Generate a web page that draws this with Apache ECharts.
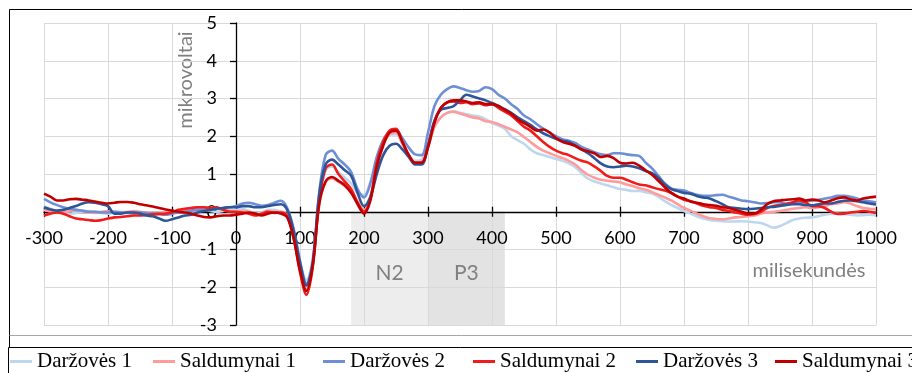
<!DOCTYPE html>
<html>
<head>
<meta charset="utf-8">
<script src="https://cdn.jsdelivr.net/npm/echarts@6/dist/echarts.min.js"></script>
<style>
  html, body { margin: 0; padding: 0; background: #fff; }
  #chart { width: 912px; height: 373px; }
</style>
</head>
<body>
<div id="chart"></div>
<script>
// Sample times (ms), one every 10 ms from -300 to 1000
const times = [
  -300,-290,-280,-270,-260,-250,-240,-230,-220,-210,
  -200,-190,-180,-170,-160,-150,-140,-130,-120,-110,
  -100,-90,-80,-70,-60,-50,-40,-30,-20,-10,
  0,10,20,30,40,50,60,70,80,90,
  100,110,120,130,140,150,160,170,180,190,
  200,210,220,230,240,250,260,270,280,290,
  300,310,320,330,340,350,360,370,380,390,
  400,410,420,430,440,450,460,470,480,490,
  500,510,520,530,540,550,560,570,580,590,
  600,610,620,630,640,650,660,670,680,690,
  700,710,720,730,740,750,760,770,780,790,
  800,810,820,830,840,850,860,870,880,890,
  900,910,920,930,940,950,960,970,980,990,
  1000
];

// Series names (legend order)
const seriesNames = ['Daržovės 1', 'Saldumynai 1', 'Daržovės 2', 'Saldumynai 2', 'Daržovės 3', 'Saldumynai 3'];

// Amplitudes in microvolts, one value per sample time
const darzoves1 = [
  0.15,0.08,0.02,-0.02,-0.05,-0.03,0.00,0.02,0.00,-0.03,
  -0.05,-0.02,0.00,-0.02,-0.05,-0.03,-0.05,-0.08,-0.06,-0.03,
  0.00,0.00,0.02,0.00,0.03,0.05,0.02,0.00,0.02,0.05,
  0.05,0.08,0.02,-0.05,-0.02,0.05,0.05,0.00,-0.10,-0.55,
  -1.35,-1.80,-1.20,0.35,1.10,1.20,1.05,0.90,0.75,0.50,
  0.45,0.80,1.45,1.85,2.05,2.05,1.80,1.50,1.35,1.38,
  1.75,2.25,2.50,2.62,2.66,2.62,2.58,2.55,2.52,2.45,
  2.35,2.28,2.20,2.00,1.90,1.80,1.65,1.55,1.50,1.45,
  1.40,1.35,1.28,1.18,1.02,0.88,0.80,0.75,0.70,0.65,
  0.60,0.58,0.55,0.55,0.52,0.48,0.40,0.28,0.18,0.10,
  0.02,-0.05,-0.12,-0.18,-0.22,-0.24,-0.25,-0.26,-0.26,-0.25,
  -0.26,-0.28,-0.30,-0.36,-0.42,-0.38,-0.30,-0.22,-0.18,-0.16,
  -0.15,-0.12,-0.08,-0.06,-0.05,-0.06,-0.08,-0.10,-0.09,-0.08,
  -0.10
];
const saldumynai1 = [
  0.05,0.00,-0.03,-0.02,0.02,0.05,0.02,-0.02,-0.03,0.00,
  0.02,0.00,-0.02,0.00,0.02,0.00,-0.03,-0.05,-0.05,-0.02,
  0.00,0.02,0.05,0.08,0.10,0.08,0.05,0.08,0.05,0.02,
  0.00,0.02,0.00,-0.08,-0.05,0.02,0.00,0.00,-0.10,-0.65,
  -1.50,-2.05,-1.40,0.20,0.78,0.88,0.80,0.68,0.50,0.25,
  0.05,0.40,1.25,1.80,2.05,2.10,1.80,1.45,1.30,1.32,
  1.70,2.25,2.50,2.62,2.65,2.60,2.55,2.50,2.47,2.40,
  2.38,2.32,2.25,2.18,2.10,1.98,1.85,1.72,1.62,1.55,
  1.48,1.42,1.35,1.25,1.10,0.98,0.90,0.85,0.82,0.80,
  0.78,0.72,0.68,0.62,0.58,0.52,0.45,0.38,0.30,0.20,
  0.10,0.03,-0.05,-0.12,-0.17,-0.19,-0.20,-0.18,-0.15,-0.14,
  -0.12,-0.10,-0.05,-0.02,0.00,0.02,0.05,0.08,0.10,0.12,
  0.10,0.12,0.15,0.20,0.22,0.25,0.22,0.15,0.10,0.08,
  0.07
];
const darzoves2 = [
  0.34,0.25,0.18,0.12,0.08,0.05,0.03,0.00,0.00,-0.02,
  -0.02,0.00,-0.02,-0.03,-0.03,-0.02,-0.04,-0.05,-0.06,-0.08,
  -0.05,-0.02,0.00,0.03,0.05,0.05,0.06,0.08,0.10,0.12,
  0.15,0.22,0.24,0.20,0.16,0.18,0.24,0.29,0.10,-0.45,
  -1.30,-1.90,-1.30,0.50,1.50,1.62,1.40,1.25,1.05,0.60,
  0.38,0.75,1.45,1.90,2.12,2.15,1.95,1.70,1.52,1.50,
  2.10,2.80,3.10,3.25,3.32,3.28,3.22,3.18,3.20,3.30,
  3.25,3.10,3.00,2.85,2.72,2.55,2.45,2.32,2.20,2.10,
  2.00,1.92,1.88,1.82,1.72,1.65,1.58,1.52,1.50,1.55,
  1.55,1.52,1.50,1.48,1.30,1.15,0.95,0.75,0.62,0.58,
  0.56,0.50,0.45,0.42,0.42,0.44,0.45,0.40,0.35,0.30,
  0.28,0.25,0.22,0.23,0.25,0.25,0.22,0.24,0.25,0.28,
  0.30,0.32,0.35,0.38,0.42,0.42,0.40,0.35,0.30,0.28,
  0.25
];
const saldumynai2 = [
  -0.10,-0.05,-0.02,-0.05,-0.12,-0.18,-0.20,-0.22,-0.24,-0.22,
  -0.18,-0.15,-0.14,-0.12,-0.10,-0.10,-0.08,-0.07,-0.06,-0.05,
  -0.02,0.05,0.08,0.10,0.12,0.12,0.10,0.12,0.05,0.00,
  0.00,-0.02,-0.05,-0.10,-0.05,0.00,-0.03,-0.02,-0.12,-0.70,
  -1.60,-2.20,-1.45,0.30,1.15,1.25,1.00,0.80,0.60,0.25,
  0.00,0.35,1.30,1.85,2.15,2.20,1.85,1.50,1.30,1.30,
  1.75,2.40,2.75,2.90,2.92,2.88,2.90,2.85,2.87,2.82,
  2.85,2.75,2.65,2.55,2.40,2.25,2.15,2.00,1.85,1.72,
  1.62,1.55,1.50,1.42,1.35,1.30,1.20,1.08,0.95,0.90,
  0.90,0.85,0.78,0.72,0.70,0.65,0.60,0.56,0.50,0.40,
  0.32,0.28,0.22,0.16,0.12,0.10,0.05,0.02,-0.02,-0.05,
  -0.08,-0.06,0.00,0.10,0.15,0.18,0.20,0.25,0.30,0.25,
  0.15,0.15,0.10,0.00,-0.06,-0.05,-0.02,0.00,0.02,0.00,
  -0.03
];
const darzoves3 = [
  0.12,0.06,0.03,0.05,0.10,0.15,0.22,0.25,0.24,0.20,
  0.15,-0.05,-0.05,-0.02,-0.02,-0.05,-0.10,-0.12,-0.18,-0.24,
  -0.20,-0.15,-0.10,-0.08,-0.02,0.02,0.05,0.08,0.10,0.12,
  0.12,0.15,0.15,0.12,0.12,0.15,0.18,0.20,0.05,-0.50,
  -1.35,-1.95,-1.35,0.45,1.25,1.38,1.25,1.10,0.95,0.50,
  0.15,0.40,1.00,1.50,1.75,1.80,1.65,1.45,1.25,1.25,
  1.75,2.40,2.70,2.75,2.80,2.95,3.10,3.05,3.00,2.95,
  2.88,2.80,2.72,2.62,2.50,2.40,2.30,2.18,2.08,2.00,
  1.93,1.88,1.85,1.75,1.65,1.55,1.42,1.28,1.20,1.18,
  1.20,1.22,1.20,1.15,1.08,1.02,0.90,0.72,0.60,0.55,
  0.50,0.48,0.42,0.38,0.35,0.28,0.20,0.12,0.10,0.08,
  0.07,0.08,0.10,0.12,0.13,0.15,0.18,0.20,0.20,0.18,
  0.17,0.20,0.22,0.22,0.26,0.29,0.30,0.28,0.25,0.22,
  0.19
];
const saldumynai3 = [
  0.48,0.40,0.30,0.30,0.33,0.34,0.32,0.30,0.27,0.24,
  0.22,0.24,0.26,0.26,0.24,0.20,0.17,0.14,0.10,0.06,
  0.03,0.00,-0.02,-0.05,-0.10,-0.14,-0.15,-0.12,-0.10,-0.10,
  -0.08,-0.05,-0.02,-0.05,-0.10,-0.05,-0.02,-0.05,-0.15,-0.70,
  -1.55,-2.10,-1.40,0.20,0.80,0.92,0.82,0.70,0.50,0.20,
  -0.05,0.30,1.20,1.75,2.10,2.15,1.85,1.50,1.30,1.30,
  1.70,2.35,2.75,2.90,2.95,2.95,2.92,2.88,2.90,2.85,
  2.85,2.80,2.70,2.60,2.45,2.35,2.25,2.15,2.18,2.10,
  1.95,1.85,1.80,1.75,1.65,1.60,1.55,1.45,1.48,1.42,
  1.30,1.28,1.30,1.22,1.10,0.98,0.82,0.65,0.50,0.40,
  0.35,0.27,0.24,0.20,0.18,0.16,0.12,0.10,0.05,0.00,
  -0.05,-0.05,0.05,0.20,0.28,0.30,0.32,0.33,0.35,0.30,
  0.32,0.30,0.25,0.30,0.36,0.38,0.33,0.30,0.35,0.38,
  0.40
];

const seriesValues = [darzoves1, saldumynai1, darzoves2, saldumynai2, darzoves3, saldumynai3];
const seriesColors = ['#BDD7EE', '#FF9B9B', '#6E8FD6', '#F21B1B', '#2E5597', '#C00000'];

// Shaded component windows (ms) and their labels
const windows = [
  { name: 'N2', from: 180, to: 300, color: '#EDEDED' },
  { name: 'P3', from: 300, to: 420, color: '#E3E3E3' }
];

const xTickMin = -300, xTickMax = 1000, xTickStep = 100;
const yTickMin = -3, yTickMax = 5, yTickStep = 1;

const axisFont = 'Lato, "Open Sans", sans-serif';
const legendFont = '"Liberation Serif", "DejaVu Serif", serif';

// Plot box in pixels
const gridLeft = 44, gridRight = 36, gridTop = 23, gridBottom = 48;
const W = 912, H = 373;
const plotW = W - gridLeft - gridRight;
const plotH = H - gridTop - gridBottom;

// Axes cross at (0 ms, 0 µV): shift them from the plot edges to the zero lines
const xAxisShift = -plotH * (0 - yTickMin) / (yTickMax - yTickMin);
const yAxisShift = -plotW * (0 - xTickMin) / (xTickMax - xTickMin);

// Left edge of each legend entry (one legend box per series)
const legendLefts = [10, 153, 323, 473, 636, 775];

const chart = echarts.init(document.getElementById('chart'), null, { renderer: 'canvas' });

const lineSeries = seriesNames.map((name, i) => ({
  name: name,
  type: 'line',
  xAxisIndex: 0,
  yAxisIndex: 0,
  data: times.map((t, k) => [t, seriesValues[i][k]]),
  smooth: 0.35,
  showSymbol: false,
  symbol: 'none',
  lineStyle: { color: seriesColors[i], width: 2.6 },
  itemStyle: { color: seriesColors[i] },
  z: 3 + i
}));

// Series carrying the shaded windows; the axes (z 2) draw over it
const windowSeries = {
  name: 'windows',
  type: 'line',
  data: [],
  z: 1,
  silent: true,
  markArea: {
    silent: true,
    z: 1,
    label: {
      show: true,
      position: 'inside',
      offset: [0, 5],
      color: '#808080',
      fontFamily: axisFont,
      fontSize: 21
    },
    data: windows.map(w => [
      { name: w.name, xAxis: w.from, yAxis: 0, itemStyle: { color: w.color } },
      { xAxis: w.to, yAxis: yTickMin }
    ])
  }
};

const option = {
  backgroundColor: '#ffffff',
  animation: false,
  grid: { left: gridLeft, right: gridRight, top: gridTop, bottom: gridBottom, containLabel: false },
  xAxis: [
    {
      type: 'value',
      z: 2,
      min: xTickMin, max: xTickMax, interval: xTickStep,
      position: 'bottom',
      offset: xAxisShift,
      axisLine: { show: true, onZero: false, lineStyle: { color: '#000', width: 1.3 } },
      axisTick: { show: true, inside: false, length: 5, lineStyle: { color: '#000', width: 1.3 } },
      axisLabel: { color: '#000', fontFamily: axisFont, fontSize: 18, margin: 17, formatter: v => String(v) },
      splitLine: { show: true, lineStyle: { color: '#D9D9D9', width: 1 } }
    },
    {
      type: 'value',
      z: 2,
      min: xTickMin, max: xTickMax, interval: xTickStep,
      position: 'bottom',
      offset: xAxisShift,
      axisLine: { show: false, onZero: false },
      axisTick: { show: true, inside: true, length: 5, lineStyle: { color: '#000', width: 1.3 } },
      axisLabel: { show: false },
      splitLine: { show: false }
    }
  ],
  yAxis: {
    type: 'value',
    z: 2,
    min: yTickMin, max: yTickMax, interval: yTickStep,
    position: 'left',
    offset: yAxisShift,
    axisLine: { show: true, onZero: false, lineStyle: { color: '#000', width: 1.3 } },
    axisTick: { show: true, inside: false, length: 6, lineStyle: { color: '#000', width: 1.3 } },
    axisLabel: { color: '#000', fontFamily: axisFont, fontSize: 18, margin: 19 },
    splitLine: { show: true, lineStyle: { color: '#D9D9D9', width: 1 } }
  },
  legend: seriesNames.map((name, i) => ({
    data: [name],
    left: legendLefts[i],
    top: 351,
    itemWidth: 22,
    itemHeight: 3,
    itemGap: 0,
    icon: 'rect',
    textStyle: { color: '#000', fontFamily: legendFont, fontSize: 21 },
    padding: 0,
    selectedMode: false
  })),
  graphic: [
    // outer frame of the plot
    { type: 'line', shape: { x1: 9.5, y1: 9.5, x2: 960, y2: 9.5 }, style: { stroke: '#000', lineWidth: 1 }, silent: true },
    { type: 'line', shape: { x1: 9.5, y1: 9.5, x2: 9.5, y2: 347 }, style: { stroke: '#000', lineWidth: 1 }, silent: true },
    { type: 'line', shape: { x1: 9.5, y1: 335.5, x2: 960, y2: 335.5 }, style: { stroke: '#A6A6A6', lineWidth: 1 }, silent: true },
    // legend box
    { type: 'line', shape: { x1: 8.5, y1: 347.5, x2: 960, y2: 347.5 }, style: { stroke: '#000', lineWidth: 1 }, silent: true },
    { type: 'line', shape: { x1: 8.5, y1: 347.5, x2: 8.5, y2: 373 }, style: { stroke: '#000', lineWidth: 1 }, silent: true },
    // axis titles
    {
      type: 'text', x: 186, y: 80, rotation: Math.PI / 2, silent: true,
      style: { text: 'mikrovoltai', fill: '#808080', font: '20px ' + axisFont, textAlign: 'center', textVerticalAlign: 'middle' }
    },
    {
      type: 'text', x: 809, y: 271, silent: true,
      style: { text: 'milisekundės', fill: '#808080', font: '20px ' + axisFont, textAlign: 'center', textVerticalAlign: 'middle' }
    }
  ],
  series: [windowSeries].concat(lineSeries)
};

chart.setOption(option);
</script>
</body>
</html>
